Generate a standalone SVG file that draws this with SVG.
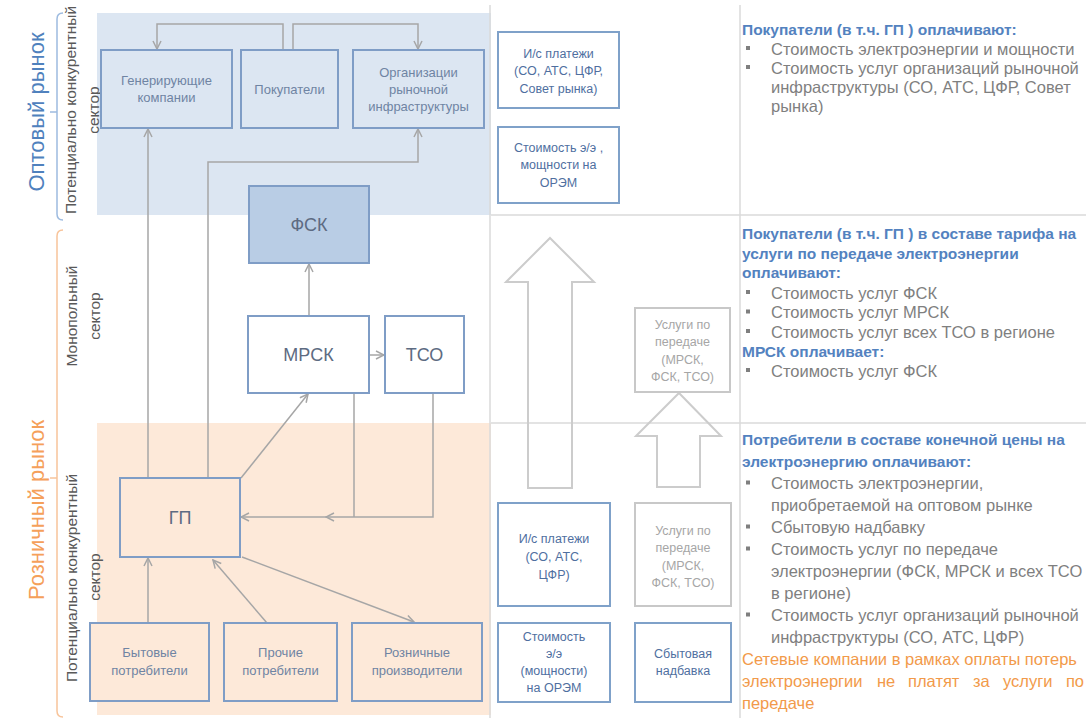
<svg xmlns="http://www.w3.org/2000/svg" width="1086" height="723" viewBox="0 0 1086 723">
<style>
text{font-family:"Liberation Sans",Arial,sans-serif}
.node{stroke:#7f9dc6;stroke-width:2}
.nt{font-size:13px;fill:#6f84a3;text-anchor:middle}
.big{font-size:18px;fill:#5d6b82;text-anchor:middle}
.rb{fill:#fff;stroke:#7fa1c9;stroke-width:2}
.rt{font-size:12.5px;fill:#4f6f9f;text-anchor:middle}
.gb{fill:#fff;stroke:#c8c8c8;stroke-width:2}
.gt{font-size:12.5px;fill:#a6a6a6;text-anchor:middle}
.conn{fill:none;stroke:#a6a6a6;stroke-width:1.5;marker-end:url(#arr)}
.sep{stroke:#dadada;stroke-width:1.5}
.body{font-size:16.5px;fill:#7f7f7f}
.title{font-size:15.5px;font-weight:bold;fill:#5382bf}
.orange{font-size:16.5px;fill:#f29a4a}
.sector{font-size:15.5px;fill:#595959;text-anchor:middle}
.bul{fill:#7f7f7f}
.bigarr{fill:none;stroke:#cccccc;stroke-width:2}
</style>
<defs>
<marker id="arr" viewBox="0 0 10 10" refX="9" refY="5" markerWidth="10" markerHeight="10" markerUnits="userSpaceOnUse" orient="auto">
<path d="M1,1 L9,5 L1,9" fill="none" stroke="#a6a6a6" stroke-width="1.5"/>
</marker>
</defs>
<rect width="1086" height="723" fill="#fff"/>
<g id="bands">
<rect x="97" y="13" width="394" height="202" fill="#dce6f2"/>
<rect x="97" y="423" width="394" height="292" fill="#fde9d9"/>
<line class="sep" x1="490" y1="5" x2="490" y2="718"/>
<line class="sep" x1="740" y1="5" x2="740" y2="718"/>
<line class="sep" x1="491" y1="215" x2="1086" y2="215"/>
<line class="sep" x1="491" y1="423" x2="1086" y2="423"/>
</g>
<g id="labels">
<path d="M63,13 Q57,13 57,19 V214 Q57,220 63,220 M57,112 H50" fill="none" stroke="#9dbbe0" stroke-width="1.5"/>
<path d="M63,230 Q57,230 57,236 V711 Q57,717 63,717 M57,478 H50" fill="none" stroke="#f8c49a" stroke-width="1.5"/>
<text transform="translate(44,112) rotate(-90)" font-size="22" fill="#4f81bd" text-anchor="middle">Оптовый рынок</text>
<text transform="translate(44,510) rotate(-90)" font-size="22" fill="#f5a05a" text-anchor="middle">Розничный рынок</text>
<text class="sector" transform="translate(76,110) rotate(-90)">Потенциально конкурентный</text>
<text class="sector" transform="translate(99,110) rotate(-90)">сектор</text>
<text class="sector" transform="translate(77,316) rotate(-90)">Монопольный</text>
<text class="sector" transform="translate(100,316) rotate(-90)">сектор</text>
<text class="sector" transform="translate(77,578) rotate(-90)">Потенциально конкурентный</text>
<text class="sector" transform="translate(100,577) rotate(-90)">сектор</text>
</g>
<g id="connectors">
<path class="conn" d="M283,50 V24 H157 V49"/>
<path class="conn" d="M293,50 V24 H418 V49"/>
<path class="conn" d="M148,478 V129"/>
<path class="conn" d="M208,478 V162 H418 V129"/>
<path class="conn" d="M309,316 V264"/>
<path class="conn" d="M370,355 H384"/>
<path class="conn" d="M241,478 L308,394"/>
<path fill="none" stroke="#a6a6a6" stroke-width="1.5" d="M354,393 V517"/>
<path class="conn" d="M433,393 V517 H326"/>
<path class="conn" d="M326,517 H241"/>
<path class="conn" d="M148,623 V558"/>
<path class="conn" d="M267,623 L213,560"/>
<path class="conn" d="M242,557 L414,622"/>
</g>
<g id="flow-arrows">
<polygon class="bigarr" points="550,238 594,282 572,282 572,488 528,488 528,282 506,282"/>
<polygon class="bigarr" points="679,393 721,436 700,436 700,487 657,487 657,436 636,436"/>
</g>
<g id="gen"><rect class="node" x="101" y="50" width="131" height="78" fill="#dce6f2"/>
<text class="nt" x="166.5" y="85">Генерирующие</text><text class="nt" x="166.5" y="102">компании</text></g>
<g id="pok"><rect class="node" x="241" y="50" width="97" height="78" fill="#dce6f2"/>
<text class="nt" x="289.5" y="93.5">Покупатели</text></g>
<g id="org"><rect class="node" x="353" y="50" width="131" height="78" fill="#dce6f2"/>
<text class="nt" x="418.5" y="76.5">Организации</text><text class="nt" x="418.5" y="93.5">рыночной</text><text class="nt" x="418.5" y="110.5">инфраструктуры</text></g>
<g id="fsk"><rect class="node" x="249" y="186" width="120" height="77" fill="#b9cde5"/>
<text class="big" x="309" y="231">ФСК</text></g>
<g id="mrsk"><rect class="node" x="248" y="316" width="121" height="77" fill="#fff"/>
<text class="big" x="308.5" y="361">МРСК</text></g>
<g id="tso"><rect class="node" x="385" y="316" width="79" height="77" fill="#fff"/>
<text class="big" x="424.5" y="361">ТСО</text></g>
<g id="gp"><rect class="node" x="120" y="478" width="120" height="79" fill="#fde9d9"/>
<text class="big" x="180" y="524">ГП</text></g>
<g id="byt"><rect class="node" x="90" y="623" width="119" height="78" fill="#fde9d9"/>
<text class="nt" x="149.5" y="657">Бытовые</text><text class="nt" x="149.5" y="675">потребители</text></g>
<g id="proch"><rect class="node" x="224" y="623" width="113" height="78" fill="#fde9d9"/>
<text class="nt" x="280.5" y="657">Прочие</text><text class="nt" x="280.5" y="675">потребители</text></g>
<g id="rozn"><rect class="node" x="352" y="623" width="130" height="78" fill="#fde9d9"/>
<text class="nt" x="417" y="657">Розничные</text><text class="nt" x="417" y="675">производители</text></g>
<g id="is1"><rect class="rb" x="498" y="32" width="121" height="76"/>
<text class="rt" x="558.5" y="57.5">И/с платежи</text><text class="rt" x="558.5" y="75">(СО, АТС, ЦФР,</text><text class="rt" x="558.5" y="92.5">Совет рынка)</text></g>
<g id="st1"><rect class="rb" x="498" y="127" width="121" height="76"/>
<text class="rt" x="558.5" y="151.5">Стоимость э/э ,</text><text class="rt" x="558.5" y="168.5">мощности на</text><text class="rt" x="558.5" y="186.5">ОРЭМ</text></g>
<g id="usl1"><rect class="gb" x="635" y="308" width="95" height="84"/>
<text class="gt" x="682.5" y="328.5">Услуги по</text><text class="gt" x="682.5" y="346">передаче</text><text class="gt" x="682.5" y="363.5">(МРСК,</text><text class="gt" x="682.5" y="381">ФСК, ТСО)</text></g>
<g id="is2"><rect class="rb" x="498" y="503" width="112" height="103"/>
<text class="rt" x="554" y="542.5">И/с платежи</text><text class="rt" x="554" y="560.5">(СО, АТС,</text><text class="rt" x="554" y="578.5">ЦФР)</text></g>
<g id="usl2"><rect class="gb" x="635" y="503" width="96" height="103"/>
<text class="gt" x="683" y="534.5">Услуги по</text><text class="gt" x="683" y="552">передаче</text><text class="gt" x="683" y="569.5">(МРСК,</text><text class="gt" x="683" y="587">ФСК, ТСО)</text></g>
<g id="st2"><rect class="rb" x="498" y="623" width="112" height="79"/>
<text class="rt" x="554" y="640.5">Стоимость</text><text class="rt" x="554" y="657.5">э/э</text><text class="rt" x="554" y="674.5">(мощности)</text><text class="rt" x="554" y="691.5">на ОРЭМ</text></g>
<g id="sbyt"><rect class="rb" x="635" y="623" width="96" height="79"/>
<text class="rt" x="683" y="657.5">Сбытовая</text><text class="rt" x="683" y="674.5">надбавка</text></g>
<g id="notes">
<text class="title" x="742" y="35">Покупатели (в т.ч. ГП ) оплачивают:</text>
<rect class="bul" x="746" y="46" width="4" height="4"/><text class="body" x="771" y="54.5">Стоимость электроэнергии и мощности</text>
<rect class="bul" x="746" y="65" width="4" height="4"/><text class="body" x="771" y="73.5">Стоимость услуг организаций рыночной</text>
<text class="body" x="771" y="92.5">инфраструктуры (СО, АТС, ЦФР, Совет</text>
<text class="body" x="771" y="111.5">рынка)</text>

<text class="title" x="742" y="239">Покупатели (в т.ч. ГП ) в составе тарифа на</text>
<text class="title" x="742" y="258.5">услуги по передаче электроэнергии</text>
<text class="title" x="742" y="278">оплачивают:</text>
<rect class="bul" x="746" y="290" width="4" height="4"/><text class="body" x="771" y="298.5">Стоимость услуг ФСК</text>
<rect class="bul" x="746" y="309.5" width="4" height="4"/><text class="body" x="771" y="318">Стоимость услуг МРСК</text>
<rect class="bul" x="746" y="329" width="4" height="4"/><text class="body" x="771" y="337.5">Стоимость услуг всех ТСО в регионе</text>
<text class="title" x="742" y="357">МРСК оплачивает:</text>
<rect class="bul" x="746" y="368" width="4" height="4"/><text class="body" x="771" y="376.5">Стоимость услуг ФСК</text>

<text class="title" x="742" y="445">Потребители в составе конечной цены на</text>
<text class="title" x="742" y="467">электроэнергию оплачивают:</text>
<rect class="bul" x="746" y="480.5" width="4" height="4"/><text class="body" x="771" y="489">Стоимость электроэнергии,</text>
<text class="body" x="771" y="511">приобретаемой на оптовом рынке</text>
<rect class="bul" x="746" y="524.5" width="4" height="4"/><text class="body" x="771" y="533">Сбытовую надбавку</text>
<rect class="bul" x="746" y="546.5" width="4" height="4"/><text class="body" x="771" y="555">Стоимость услуг по передаче</text>
<text class="body" x="771" y="577">электроэнергии (ФСК, МРСК и всех ТСО</text>
<text class="body" x="771" y="599">в регионе)</text>
<rect class="bul" x="746" y="612.5" width="4" height="4"/><text class="body" x="771" y="621">Стоимость услуг организаций рыночной</text>
<text class="body" x="771" y="643">инфраструктуры (СО, АТС, ЦФР)</text>
<text class="orange" x="742" y="665">Сетевые компании в рамках оплаты потерь</text>
<text class="orange" y="687"><tspan x="742">электроэнергии</tspan><tspan x="877">не</tspan><tspan x="908">платят</tspan><tspan x="973">за</tspan><tspan x="1003">услуги</tspan><tspan x="1084" text-anchor="end">по</tspan></text>
<text class="orange" x="742" y="709">передаче</text>
</g>
</svg>
